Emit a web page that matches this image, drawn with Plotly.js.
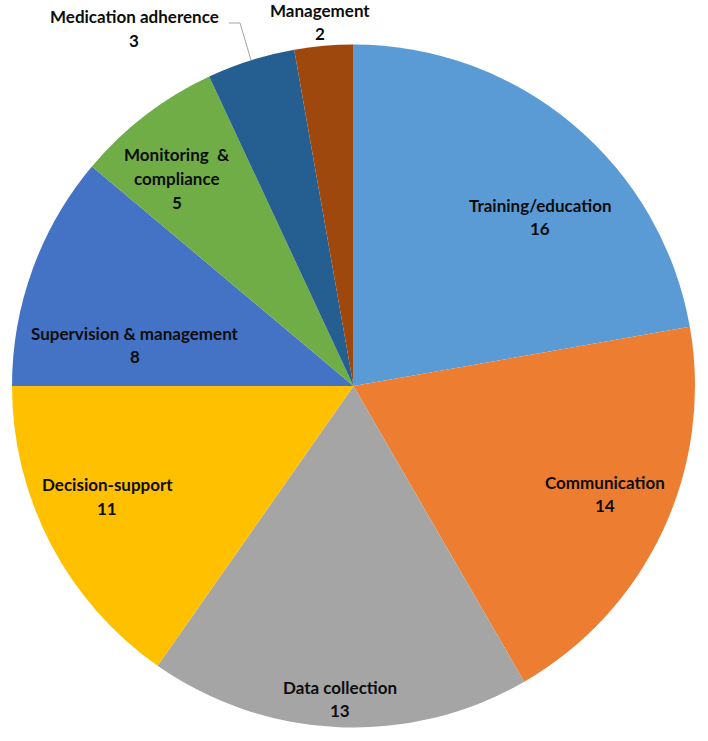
<!DOCTYPE html>
<html>
<head>
<meta charset="utf-8">
<script src="https://cdn.plot.ly/plotly-3.0.1.min.js"></script>
<style>
	html, body { margin: 0; padding: 0; background: #fff; }
	#chart { width: 708px; height: 741px; }
</style>
</head>
<body>
<div id="chart"></div>
<script>
// Data
var categories = ["Training/education", "Communication", "Data collection", "Decision-support",
	"Supervision & management", "Monitoring  &<br>compliance", "Medication adherence", "Management"]
var counts = [16, 14, 13, 11, 8, 5, 3, 2]
var slice_colors = ["#5B9BD5", "#ED7D31", "#A5A5A5", "#FFC000", "#4472C4", "#70AD47", "#255E91", "#9E480E"]

// Label placement in pixels (centre x, first line y), same order as categories
var label_x = [540, 605, 340, 107, 135, 177, 134, 320]
var label_y = [205, 482, 687, 485, 333, 155, 17, 10]

var W = 708, H = 741
var line_gap = 23.5

function px(x) { return x / W }
function py(y) { return 1 - y / H }

function build_annotations() {
	let ann = []
	let font = {family: "Lato, 'Open Sans', sans-serif", size: 17, color: "#0d0d0d", weight: 700}
	for (let i = 0; i < categories.length; i++) {
		let lines = categories[i].split("<br>")
		lines.push(String(counts[i]))
		for (let j = 0; j < lines.length; j++) {
			ann.push({
				xref: "paper", yref: "paper",
				x: px(label_x[i]), y: py(label_y[i] + j * line_gap),
				xanchor: "center", yanchor: "middle",
				text: "<b>" + lines[j].replace("&", "&amp;") + "</b>",
				showarrow: false,
				font: font
			})
		}
	}
	return ann
}

var trace = {
	type: "pie",
	labels: categories,
	values: counts,
	sort: false,
	direction: "clockwise",
	rotation: 0,
	textinfo: "none",
	hoverinfo: "label+value",
	marker: {colors: slice_colors, line: {width: 0}},
	domain: {x: [px(12), px(695)], y: [py(728), py(44)]},
	showlegend: false
}

// leader line for the small "Medication adherence" slice
var leader = [
	{type: "line", xref: "paper", yref: "paper", x0: px(229), y0: py(23), x1: px(240), y1: py(23),
		line: {color: "#A6A6A6", width: 1}},
	{type: "line", xref: "paper", yref: "paper", x0: px(240), y0: py(23), x1: px(251), y1: py(60),
		line: {color: "#A6A6A6", width: 1}}
]

var layout = {
	width: W,
	height: H,
	margin: {t: 0, b: 0, l: 0, r: 0},
	paper_bgcolor: "#ffffff",
	annotations: build_annotations(),
	shapes: leader
}

Plotly.newPlot("chart", [trace], layout, {displayModeBar: false})
</script>
</body>
</html>
